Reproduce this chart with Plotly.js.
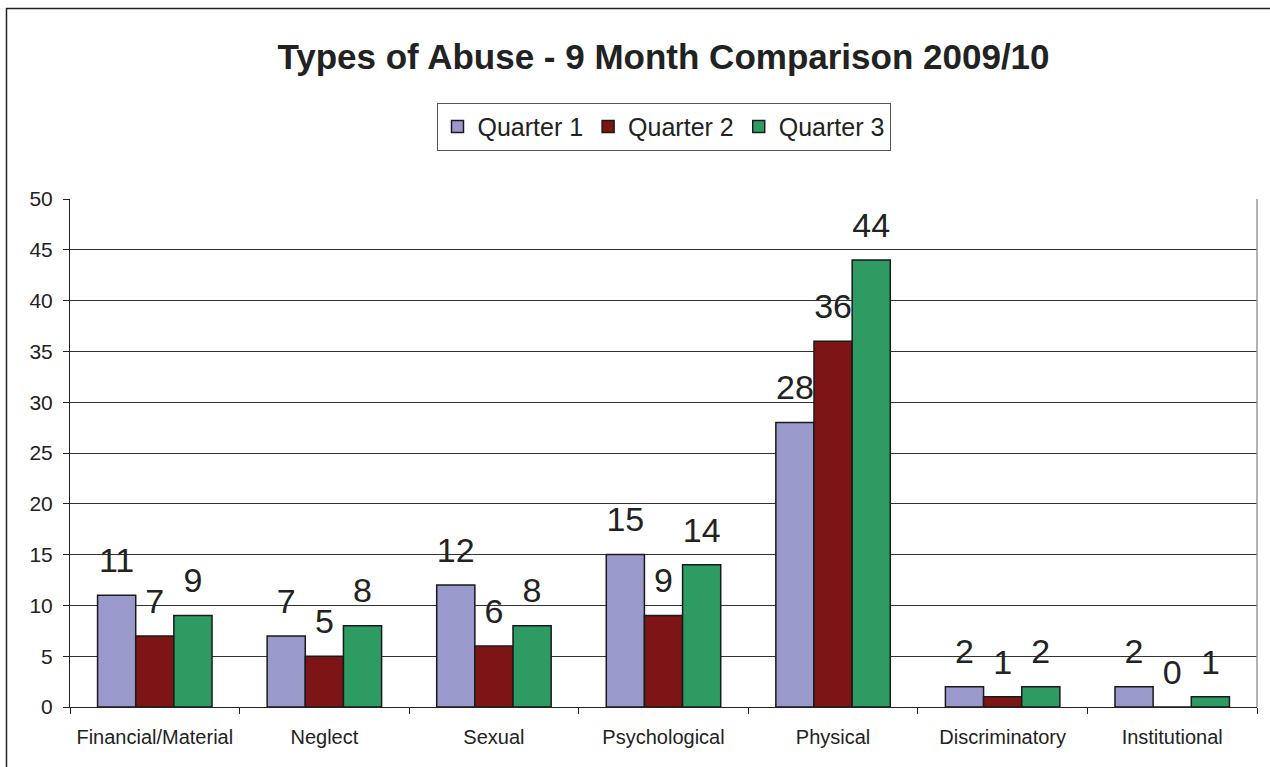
<!DOCTYPE html>
<html>
<head>
<meta charset="utf-8">
<script src="https://cdn.plot.ly/plotly-3.0.1.min.js"></script>
<style>
html,body{margin:0;padding:0;background:#fff;}
#chart{width:1270px;height:767px;}
</style>
</head>
<body>
<div id="chart"></div>
<script>
const categories = ["Financial/Material","Neglect","Sexual","Psychological","Physical","Discriminatory","Institutional"];
const seriesNames = ["Quarter 1","Quarter 2","Quarter 3"];
const quarter1 = [11, 7, 12, 15, 28, 2, 2];
const quarter2 = [7, 5, 6, 9, 36, 1, 0];
const quarter3 = [9, 8, 8, 14, 44, 2, 1];
const colors = ["#9999CC", "#7D1416", "#2E9B63"];

const seriesValues = [quarter1, quarter2, quarter3];
const FONT = "Liberation Sans, Arial, sans-serif";

const traces = [];
seriesValues.forEach((vals, i) => {
  traces.push({
    type: "bar",
    name: seriesNames[i],
    x: categories,
    y: vals,
    offsetgroup: String(i),
    marker: {color: colors[i], line: {color: "#1a1a1a", width: 1.5}},
    hoverinfo: "x+y+name"
  });
});
seriesValues.forEach((vals, i) => {
  traces.push({
    type: "scatter",
    mode: "markers+text",
    x: categories,
    y: vals,
    offsetgroup: String(i),
    text: vals.map(String),
    textposition: "top center",
    textfont: {family: FONT, size: 34, color: "#222"},
    marker: {size: 22, opacity: 0},
    showlegend: false,
    hoverinfo: "skip",
    cliponaxis: false
  });
});

const layout = {
  width: 1270,
  height: 767,
  margin: {l: 70, r: 13, t: 199, b: 60},
  paper_bgcolor: "#fff",
  plot_bgcolor: "#fff",
  font: {family: FONT, color: "#222"},
  barmode: "group",
  scattermode: "group",
  bargap: 0.325,
  bargroupgap: 0,
  title: {
    text: "<b>Types of Abuse - 9 Month Comparison 2009/10</b>",
    font: {family: FONT, size: 35, color: "#222"},
    x: 0.5, xref: "paper", xanchor: "center",
    y: 0.926, yref: "container", yanchor: "middle"
  },
  legend: {
    orientation: "h",
    x: 0.5, xref: "paper", xanchor: "center",
    y: 0.866, yref: "container", yanchor: "top",
    bordercolor: "#555", borderwidth: 1,
    font: {family: FONT, size: 25, color: "#222"},
    itemwidth: 30, traceorder: "normal"
  },
  xaxis: {
    type: "category",
    showline: true, linecolor: "#222", linewidth: 1,
    ticks: "outside", tickson: "boundaries", ticklen: 6, tickcolor: "#222",
    tickfont: {family: FONT, size: 20, color: "#222"},
    ticklabelstandoff: 12,
    showgrid: false, fixedrange: true
  },
  yaxis: {
    range: [0, 50], dtick: 5,
    showline: true, linecolor: "#222", linewidth: 1,
    ticks: "outside", ticklen: 6, tickcolor: "#222",
    tickfont: {family: FONT, size: 21, color: "#222"},
    ticklabelstandoff: 6,
    showgrid: true, gridcolor: "#333", gridwidth: 1,
    zeroline: false, fixedrange: true
  },
  shapes: [
    {type: "line", xref: "paper", yref: "paper", x0: 1, x1: 1, y0: 0, y1: 1,
     line: {color: "#999", width: 1.5}},
    {type: "rect", xref: "paper", yref: "paper", x0: -0.0535, x1: 1.03, y0: -0.2, y1: 1.375,
     line: {color: "#222", width: 1.5}, fillcolor: "rgba(0,0,0,0)", layer: "above"}
  ]
};

Plotly.newPlot("chart", traces, layout, {displayModeBar: false, staticPlot: true});
</script>
</body>
</html>
